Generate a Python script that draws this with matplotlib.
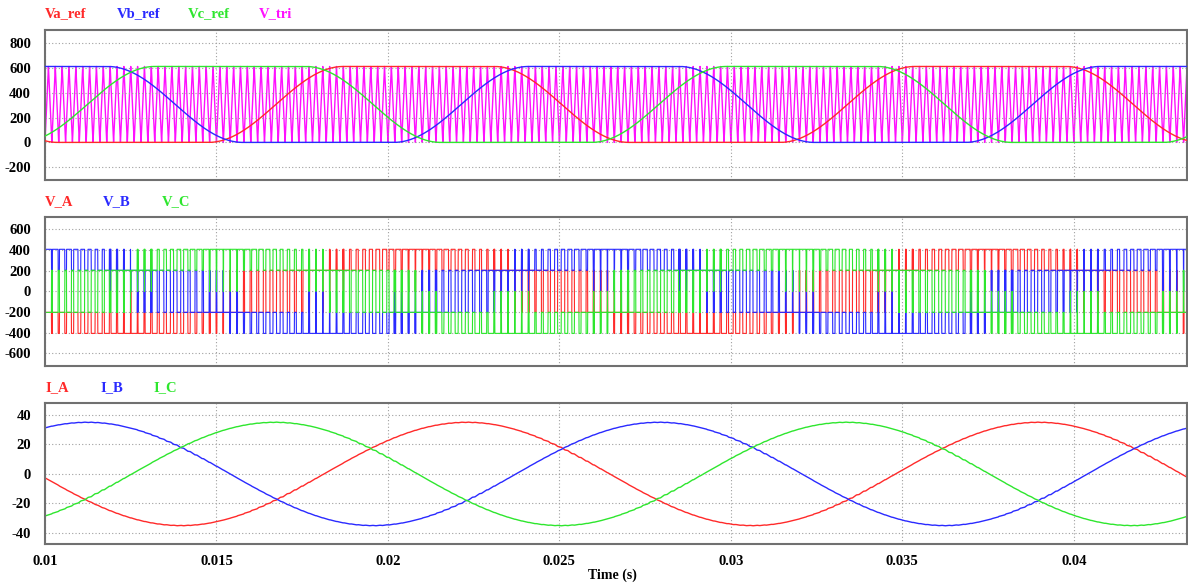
import numpy as np
import matplotlib
matplotlib.use("Agg")
import matplotlib.pyplot as plt

# values
phase_names = ["A", "B", "C"]
line_colors = ["#ff2a2a", "#2a2aff", "#2ee62e"]
tri_color = "#ff10ff"
ref_peak_t = [0.0209, 0.0263, 0.0154]   # centre of the flat top of each reference (s)
cur_peak_t = [0.0223, 0.0279, 0.0167]   # time of each current maximum (s)
f_grid = 60.0        # Hz
f_carrier = 5000.0   # Hz
v_dc = 610.0         # V, top of carrier / flat top of references
flat_deg = 95.0      # width of each clamped part of a reference
ramp_deg = 85.0      # width of each rising / falling part
i_peak = 35.0        # A
load_l = 0.03        # H, only sets the size of the current ripple

t_start, t_end = 0.0095, 0.0434
xticks = [0.01, 0.015, 0.02, 0.025, 0.03, 0.035, 0.04]
xlim = (0.01, 0.0433)

plt.rcParams["font.family"] = ["Liberation Serif", "DejaVu Serif"]
plt.rcParams["font.weight"] = "bold"
plt.rcParams["axes.unicode_minus"] = False

dt = 1e-6
t = np.arange(t_start, t_end, dt)
w = 2 * np.pi * f_grid


def clamped_ref(tp):
    ang = np.degrees(np.angle(np.exp(1j * w * (t - tp))))
    a = np.abs(ang)
    h = flat_deg / 2
    x = np.clip((a - h) / ramp_deg, 0, 1)
    return v_dc / 2 + v_dc / 2 * np.cos(np.pi * x)


refs = [clamped_ref(tp) for tp in ref_peak_t]

# triangular carrier
ph = (t * f_carrier) % 1.0
v_tri = v_dc * (1 - np.abs(2 * ph - 1))

# switch states and phase voltages
sw = [(r > v_tri).astype(float) for r in refs]
v_ph = []
for k in range(3):
    others = [sw[j] for j in range(3) if j != k]
    v_ph.append(v_dc * (2 * sw[k] - others[0] - others[1]) / 3)

# currents: fundamental plus the switching ripple of the phase voltage
n_avg = int(round(1 / f_carrier / dt))
kernel = np.ones(n_avg) / n_avg
currents = []
for k in range(3):
    v_hf = v_ph[k] - np.convolve(v_ph[k], kernel, mode="same")
    rip = np.cumsum(v_hf) * dt / load_l
    rip = rip - np.convolve(rip, kernel, mode="same")
    currents.append(i_peak * np.cos(w * (t - cur_peak_t[k])) + rip)

W, H = 1188, 584
fig = plt.figure(figsize=(W / 100, H / 100), dpi=100)
fig.patch.set_facecolor("white")


def make_axes(top_px, bot_px):
    return fig.add_axes([45 / W, 1 - bot_px / H, (1187 - 45) / W, (bot_px - top_px) / H])


def style(ax, ylim, yticks, show_x):
    ax.set_xlim(*xlim)
    ax.set_ylim(*ylim)
    ax.set_yticks(yticks)
    ax.set_xticks(xticks)
    ax.grid(True, color="#a0a0a0", linestyle=(0, (1, 2)), linewidth=0.8)
    ax.tick_params(length=0, labelsize=10.5, pad=10)
    for s in ax.spines.values():
        s.set_color("#707070")
        s.set_linewidth(1.5)
    if show_x:
        ax.set_xticklabels([f"{x:g}" for x in xticks])
        ax.tick_params(axis="x", pad=8)
    else:
        ax.set_xticklabels([])
    for lab in ax.get_xticklabels() + ax.get_yticklabels():
        lab.set_fontweight("bold")


# top panel: references and carrier
ax1 = make_axes(29.5, 180)
ax1.plot(t, v_tri, color=tri_color, lw=1.0, zorder=1)
for k in range(3):
    ax1.plot(t, refs[k], color=line_colors[k], lw=1.0, zorder=3)
style(ax1, (-302, 907), [-200, 0, 200, 400, 600, 800], False)

# middle panel: phase voltages
ax2 = make_axes(216.7, 366)
for k in range(3):
    ax2.plot(t, v_ph[k], color=line_colors[k], lw=0.8)
style(ax2, (-722, 722), [-600, -400, -200, 0, 200, 400, 600], False)

# bottom panel: currents
ax3 = make_axes(402.7, 544.3)
for k in range(3):
    ax3.plot(t, currents[k], color=line_colors[k], lw=1.0)
style(ax3, (-47.7, 48.3), [-40, -20, 0, 20, 40], True)

fig.text(612 / W, 1 - 575 / H, "Time (s)", fontsize=10, fontweight="bold",
         ha="center", va="center")

# signal names above each panel
top_labels = ["Va_ref", "Vb_ref", "Vc_ref", "V_tri"]
top_x = [45, 117, 188, 259]
top_cols = line_colors + [tri_color]
for name, x, c in zip(top_labels, top_x, top_cols):
    fig.text(x / W, 1 - 14 / H, name, color=c, fontsize=10.5, fontweight="bold", va="center")

mid_x = [45, 103, 162]
for p, x, c in zip(phase_names, mid_x, line_colors):
    fig.text(x / W, 1 - 201.7 / H, "V_" + p, color=c, fontsize=10.5, fontweight="bold", va="center")

bot_x = [45, 100, 153]
for p, x, c in zip(phase_names, bot_x, line_colors):
    fig.text(x / W, 1 - 388 / H, "I_" + p, color=c, fontsize=10.5, fontweight="bold", va="center")

fig.savefig("out.png", dpi=100, facecolor="white")
